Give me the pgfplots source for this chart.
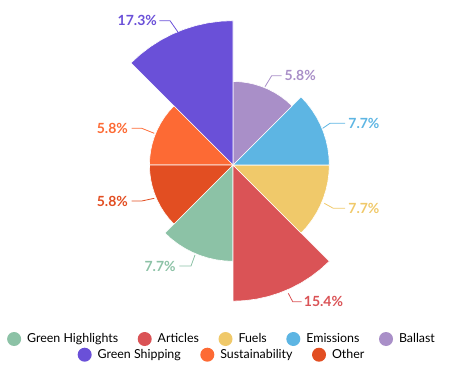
\documentclass[border=0pt]{standalone}
\usepackage{pgfplots}
\pgfplotsset{compat=1.18}
\usepgfplotslibrary{polar}
\usepackage{fontspec}
\setmainfont{Lato}
\definecolor{cGH}{HTML}{8CC2A6}
\definecolor{cAR}{HTML}{DA5356}
\definecolor{cFU}{HTML}{F0C96A}
\definecolor{cEM}{HTML}{5DB5E3}
\definecolor{cBA}{HTML}{A98FC8}
\definecolor{cGS}{HTML}{6A50D8}
\definecolor{cSU}{HTML}{FD6A34}
\definecolor{cOT}{HTML}{E24E22}
\begin{document}
\begin{tikzpicture}[x=1pt,y=1pt]
\path[use as bounding box] (0,0) rectangle (450,375);
\begin{polaraxis}[hide axis, scale only axis, width=291.48pt, height=291.48pt,
  xmin=0, xmax=360, ymin=0, ymax=17.64,
  y coord trafo/.code={\pgfmathparse{sqrt(#1)}},
  at={(233pt,210pt)}, anchor=center, clip=false]
% Green Highlights 7.7
\addplot[fill=cGH, draw=white, line width=0.6pt] coordinates {(0,0) (225,7.7) (230,7.7) (235,7.7) (240,7.7) (245,7.7) (250,7.7) (255,7.7) (260,7.7) (265,7.7) (270,7.7) (0,0)};
% Articles 15.4
\addplot[fill=cAR, draw=white, line width=0.6pt] coordinates {(0,0) (270,15.4) (275,15.4) (280,15.4) (285,15.4) (290,15.4) (295,15.4) (300,15.4) (305,15.4) (310,15.4) (315,15.4) (0,0)};
% Fuels 7.7
\addplot[fill=cFU, draw=white, line width=0.6pt] coordinates {(0,0) (315,7.7) (320,7.7) (325,7.7) (330,7.7) (335,7.7) (340,7.7) (345,7.7) (350,7.7) (355,7.7) (360,7.7) (0,0)};
% Emissions 7.7
\addplot[fill=cEM, draw=white, line width=0.6pt] coordinates {(0,0) (0,7.7) (5,7.7) (10,7.7) (15,7.7) (20,7.7) (25,7.7) (30,7.7) (35,7.7) (40,7.7) (45,7.7) (0,0)};
% Ballast 5.8
\addplot[fill=cBA, draw=white, line width=0.6pt] coordinates {(0,0) (45,5.8) (50,5.8) (55,5.8) (60,5.8) (65,5.8) (70,5.8) (75,5.8) (80,5.8) (85,5.8) (90,5.8) (0,0)};
% Green Shipping 17.3
\addplot[fill=cGS, draw=white, line width=0.6pt] coordinates {(0,0) (90,17.3) (95,17.3) (100,17.3) (105,17.3) (110,17.3) (115,17.3) (120,17.3) (125,17.3) (130,17.3) (135,17.3) (0,0)};
% Sustainability 5.8
\addplot[fill=cSU, draw=white, line width=0.6pt] coordinates {(0,0) (135,5.8) (140,5.8) (145,5.8) (150,5.8) (155,5.8) (160,5.8) (165,5.8) (170,5.8) (175,5.8) (180,5.8) (0,0)};
% Other 5.8
\addplot[fill=cOT, draw=white, line width=0.6pt] coordinates {(0,0) (180,5.8) (185,5.8) (190,5.8) (195,5.8) (200,5.8) (205,5.8) (210,5.8) (215,5.8) (220,5.8) (225,5.8) (0,0)};
\end{polaraxis}
% legend row 1
\begin{axis}[hide axis, scale only axis, width=450pt, height=375pt, at={(0pt,0pt)}, anchor=south west,
  xmin=0, xmax=450, ymin=0, ymax=375,
  legend columns=5,
  legend style={at={(axis description cs:0.4978,0.096)}, anchor=center, draw=none, fill=none,
    font=\fontsize{12.4}{14}\selectfont, inner sep=0pt,
    /tikz/every even column/.append style={column sep=13.5pt},
    nodes={inner xsep=6pt, inner ysep=1pt}},
  legend image code/.code={\fill[#1] (7pt,0pt) circle (7pt);}]
\addlegendimage{fill=cGH, draw=none}\addlegendentry{Green Highlights}
\addlegendimage{fill=cAR, draw=none}\addlegendentry{Articles}
\addlegendimage{fill=cFU, draw=none}\addlegendentry{Fuels}
\addlegendimage{fill=cEM, draw=none}\addlegendentry{Emissions}
\addlegendimage{fill=cBA, draw=none}\addlegendentry{Ballast}
\end{axis}
% legend row 2
\begin{axis}[hide axis, scale only axis, width=450pt, height=375pt, at={(0pt,0pt)}, anchor=south west,
  xmin=0, xmax=450, ymin=0, ymax=375,
  legend columns=3,
  legend style={at={(axis description cs:0.4978,0.0541)}, anchor=center, draw=none, fill=none,
    font=\fontsize{12.4}{14}\selectfont, inner sep=0pt,
    /tikz/every even column/.append style={column sep=13.5pt},
    nodes={inner xsep=6pt, inner ysep=1pt}},
  legend image code/.code={\fill[#1] (7pt,0pt) circle (7pt);}]
\addlegendimage{fill=cGS, draw=none}\addlegendentry{Green Shipping}
\addlegendimage{fill=cSU, draw=none}\addlegendentry{Sustainability}
\addlegendimage{fill=cOT, draw=none}\addlegendentry{Other}
\end{axis}
% value labels with connectors
\begin{scope}[line width=0.8pt, every node/.style={inner sep=0pt, font=\fontsize{14}{16}\selectfont\bfseries}]
\draw[cGS] (177.9,343) -- (170,354.3) -- (159.3,354.3);
\node[cGS, anchor=east] at (157.3,354.3) {17.3\%};
\draw[cBA] (265,288.3) -- (271.7,299.3) -- (281.7,299.3);
\node[cBA, anchor=west] at (284.3,299.3) {5.8\%};
\draw[cEM] (322.7,246.7) -- (330,251.7) -- (345,251.7);
\node[cEM, anchor=west] at (348,251.7) {7.7\%};
\draw[cFU] (324.3,171.7) -- (333.3,166.7) -- (345,166.7);
\node[cFU, anchor=west] at (348,166.7) {7.7\%};
\draw[cAR] (288.3,81.7) -- (292.7,73.3) -- (301.7,73.3);
\node[cAR, anchor=west] at (303.5,73.3) {15.4\%};
\draw[cGH] (195,120) -- (191,109) -- (179.3,109);
\node[cGH, anchor=east] at (176,109) {7.7\%};
\draw[cSU] (154.3,241.7) -- (141.7,246.7) -- (131.7,246.7);
\node[cSU, anchor=east] at (128.3,246.7) {5.8\%};
\draw[cOT] (154.3,176.7) -- (141.7,174) -- (131.7,174);
\node[cOT, anchor=east] at (128.3,174) {5.8\%};
\end{scope}
\end{tikzpicture}
\end{document}
